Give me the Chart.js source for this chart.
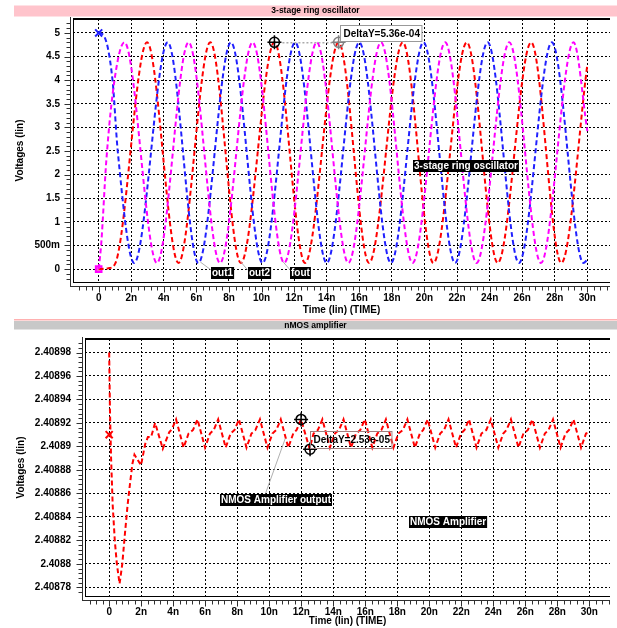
<!DOCTYPE html>
<html lang="en">
<head>
<meta charset="UTF-8">
<title>3-stage ring oscillator / nMOS amplifier</title>
<script src="https://cdn.jsdelivr.net/npm/chart.js"></script>
<style>
  body { margin: 0; background: #fff; }
  #wrap { position: relative; width: 617px; height: 628px; overflow: hidden; }
  canvas { position: absolute; left: 0; }
  #top { top: 0; }
  #bot { top: 319px; }
</style>
</head>
<body>
<div id="wrap">
  <canvas id="top" width="617" height="319"></canvas>
  <canvas id="bot" width="617" height="309"></canvas>
</div>
<script>
// ---- 3-stage ring oscillator: time (ns) / voltage (V) ----
const out1T = [0, 0.3, 0.85, 1.17, 2.18, 4.24, 6.12, 8.12, 10.06, 12.06, 14.0, 16.0, 17.94, 19.94, 21.88, 23.88, 25.8, 27.82, 29.76, 30.0];
const out1V = [5.0, 4.95, 4.0, 2.5, 0.13, 4.8, 0.13, 4.8, 0.13, 4.8, 0.13, 4.8, 0.13, 4.8, 0.13, 4.8, 0.13, 4.8, 0.13, 0.2];

const out2T = [0, 0.6, 1.02, 2.97, 4.9, 6.85, 8.73, 10.79, 12.67, 14.73, 16.6, 18.67, 20.55, 22.6, 24.5, 26.55, 28.4, 30.0];
const out2V = [0, 0.02, 0.12, 4.8, 0.13, 4.8, 0.13, 4.8, 0.13, 4.8, 0.13, 4.8, 0.13, 4.8, 0.13, 4.8, 0.13, 4.33];

const foutT = [0, 0.16, 0.47, 0.97, 1.58, 3.58, 5.52, 7.45, 9.45, 11.39, 13.39, 15.33, 17.33, 19.27, 21.27, 23.2, 25.21, 27.15, 29.15, 30.0];
const foutV = [0, 0.55, 2.3, 4.0, 4.8, 0.13, 4.8, 0.13, 4.8, 0.13, 4.8, 0.13, 4.8, 0.13, 4.8, 0.13, 4.8, 0.13, 4.8, 2.92];

const ringYTicks = [0, 0.5, 1, 1.5, 2, 2.5, 3, 3.5, 4, 4.5, 5];
const ringYLabels = ['0', '500m', '1', '1.5', '2', '2.5', '3', '3.5', '4', '4.5', '5'];

// ---- nMOS amplifier output ----
const ampT = [0.00, 0.05, 0.12, 0.22, 0.35, 0.48, 0.65, 0.82, 0.98, 1.15, 1.30, 1.45, 1.58, 1.99, 2.25, 2.42, 2.62, 2.87,
  3.35, 3.75, 3.93, 4.18,
  4.65, 4.96, 5.24, 5.52,
  5.99, 6.30, 6.53, 6.81,
  7.28, 7.59, 7.83, 8.11,
  8.58, 8.89, 9.14, 9.42,
  9.89, 10.20, 10.44, 10.72,
  11.19, 11.50, 11.71, 11.99,
  12.52, 12.77, 13.04, 13.32,
  13.79, 14.10, 14.36, 14.64,
  15.11, 15.42, 15.69, 15.97,
  16.44, 16.75, 17.01, 17.29,
  17.76, 18.07, 18.35, 18.63,
  19.10, 19.41, 19.62, 19.90,
  20.37, 20.68, 20.92, 21.20,
  21.67, 21.98, 22.20, 22.48,
  22.95, 23.26, 23.56, 23.84,
  24.31, 24.62, 24.82, 25.10,
  25.57, 25.88, 26.16, 26.44,
  26.91, 27.22, 27.45, 27.73,
  28.20, 28.51, 28.73, 29.01,
  29.48, 29.79, 30.00];
const ampV = [2.40898, 2.40893, 2.40889, 2.40885, 2.40882, 2.40880, 2.408783, 2.40880, 2.408825, 2.40885, 2.408868, 2.408885, 2.408893, 2.408884, 2.408902, 2.408908, 2.408908, 2.40892,
  2.408898, 2.408912, 2.408915, 2.408923,
  2.408899, 2.408911, 2.408914, 2.408923,
  2.408899, 2.408911, 2.408914, 2.408923,
  2.408899, 2.408911, 2.408914, 2.408923,
  2.408899, 2.408911, 2.408914, 2.408923,
  2.408899, 2.408911, 2.408914, 2.408923,
  2.408899, 2.408911, 2.408914, 2.408923,
  2.408898, 2.408911, 2.408914, 2.408923,
  2.408899, 2.408911, 2.408914, 2.408923,
  2.408899, 2.408911, 2.408914, 2.408923,
  2.408899, 2.408911, 2.408914, 2.408923,
  2.408899, 2.408911, 2.408914, 2.408923,
  2.408899, 2.408911, 2.408914, 2.408923,
  2.408899, 2.408911, 2.408914, 2.408923,
  2.408899, 2.408911, 2.408914, 2.408923,
  2.408899, 2.408911, 2.408914, 2.408923,
  2.408899, 2.408911, 2.408914, 2.408923,
  2.408899, 2.408911, 2.408914, 2.408923,
  2.408899, 2.408911, 2.408914, 2.408923,
  2.408899, 2.408911, 2.408914, 2.408923,
  2.408899, 2.408911, 2.408912];

const ampYTicks = [2.40878, 2.4088, 2.40882, 2.40884, 2.40886, 2.40888, 2.4089, 2.40892, 2.40894, 2.40896, 2.40898];
const ampYLabels = ['2.40878', '2.4088', '2.40882', '2.40884', '2.40886', '2.40888', '2.4089', '2.40892', '2.40894', '2.40896', '2.40898'];

const timeTicks = [0, 2, 4, 6, 8, 10, 12, 14, 16, 18, 20, 22, 24, 26, 28, 30];
const timeLabels = ['0', '2n', '4n', '6n', '8n', '10n', '12n', '14n', '16n', '18n', '20n', '22n', '24n', '26n', '28n', '30n'];

const FONT = "'Liberation Sans', Arial, sans-serif";
const tickFont = { family: FONT, size: 10, weight: 'bold' };

function pts(T, V) {
  return T.map((t, i) => ({ x: t, y: V[i] }));
}

function wave(T, V, color, smooth) {
  return {
    data: pts(T, V),
    borderColor: color,
    borderWidth: 2,
    borderDash: [5, 3],
    pointRadius: 0,
    fill: false,
    tension: 0,
    cubicInterpolationMode: smooth ? 'monotone' : 'default'
  };
}

function marker(x, y, style, color, fillColor, r) {
  return {
    data: [{ x: x, y: y }],
    showLine: false,
    pointStyle: style,
    pointRadius: r,
    pointBorderWidth: 2,
    borderColor: color,
    backgroundColor: fillColor || color
  };
}

// draws title bar, plot frame, rulers and the cursor / label annotations
function scopePlugin(cfg) {
  return {
    id: 'scope',
    beforeDraw(chart) {
      const c = chart.ctx;
      c.save();
      c.fillStyle = '#fff';
      c.fillRect(0, 0, chart.width, chart.height);
      if (cfg.lineAbove) {
        c.fillStyle = cfg.lineAbove;
        c.fillRect(14, 0, chart.width - 14, 1.5);
      }
      c.fillStyle = cfg.barColor;
      c.fillRect(14, cfg.barY, chart.width - 14, cfg.barH);
      c.fillStyle = '#000';
      c.font = 'bold 8.5px ' + FONT;
      c.textAlign = 'center';
      c.textBaseline = 'middle';
      c.fillText(cfg.title, (14 + chart.width) / 2, cfg.barY + cfg.barH / 2);
      c.restore();
    },
    afterDraw(chart) {
      const c = chart.ctx, a = chart.chartArea;
      const xs = chart.scales.x, ys = chart.scales.y;
      const X = v => xs.getPixelForValue(v);
      const Y = v => ys.getPixelForValue(v);
      c.save();

      // frame
      c.fillStyle = '#000';
      c.fillRect(a.left, a.top - 1, a.right - a.left, 2);
      c.fillRect(a.left, a.top, 1, a.bottom - a.top);
      c.fillRect(a.left, a.bottom, a.right - a.left, 1);

      // rulers
      c.strokeStyle = '#303030';
      c.lineWidth = 1;
      c.beginPath();
      const ry = a.bottom + 4.5;
      c.moveTo(a.left - 2, ry);
      c.lineTo(a.right, ry);
      for (let k = Math.ceil(xs.min / cfg.xMinor); k * cfg.xMinor <= xs.max; k++) {
        const px = Math.round(X(k * cfg.xMinor)) + 0.5;
        c.moveTo(px, ry);
        c.lineTo(px, ry + (((k % 5) + 5) % 5 === 0 ? 6 : 4));
      }
      const rx = a.left - 2.5;
      c.moveTo(rx, a.top - 2);
      c.lineTo(rx, a.bottom + 5);
      for (let k = Math.ceil(ys.min / cfg.yMinor); k * cfg.yMinor <= ys.max; k++) {
        const py = Math.round(Y(k * cfg.yMinor)) + 0.5;
        c.moveTo(rx, py);
        c.lineTo(rx - (((k % 5) + 5) % 5 === 0 ? 6 : 4), py);
      }
      c.stroke();

      // leader lines
      c.strokeStyle = '#b0b0b0';
      c.lineWidth = 1;
      cfg.leaders.forEach(l => {
        c.beginPath();
        c.moveTo(X(l.from[0]), Y(l.from[1]));
        c.lineTo(X(l.to[0]), Y(l.to[1]));
        c.stroke();
      });

      // cursor link
      if (cfg.link) {
        c.strokeStyle = '#808080';
        c.setLineDash([2, 2]);
        c.beginPath();
        c.moveTo(X(cfg.cursors[0].t), Y(cfg.cursors[0].v) + 0.5);
        c.lineTo(X(cfg.cursors[1].t), Y(cfg.cursors[0].v) + 0.5);
        c.stroke();
        c.setLineDash([]);
      }

      // cursors
      cfg.cursors.forEach(k => {
        const x = X(k.t), y = Y(k.v);
        c.strokeStyle = k.color;
        c.lineWidth = 1.5;
        c.beginPath();
        c.arc(x, y, 5, 0, 2 * Math.PI);
        c.stroke();
        c.beginPath();
        c.moveTo(x - 7, y); c.lineTo(x + 7, y);
        c.moveTo(x, y - 7); c.lineTo(x, y + 7);
        c.stroke();
      });

      // delta box
      const d = cfg.delta;
      c.font = 'bold 10px ' + FONT;
      c.textAlign = 'left';
      c.textBaseline = 'middle';
      const dw = c.measureText(d.text).width + 5;
      const dx = Math.round(X(d.t)) + 0.5, dy = Math.round(Y(d.v)) + 0.5;
      if (d.fill) {
        c.fillStyle = d.fill;
        c.fillRect(dx, dy, dw, d.h);
      }
      c.strokeStyle = d.stroke;
      c.lineWidth = 1;
      c.strokeRect(dx, dy, dw, d.h);
      c.fillStyle = '#000';
      c.fillText(d.text, dx + 3, dy + d.h / 2 + 0.5);

      // black labels
      cfg.labels.forEach(l => {
        const w = c.measureText(l.text).width + 2;
        const x = Math.round(X(l.t)), y = Math.round(Y(l.v));
        c.fillStyle = '#000';
        c.fillRect(x, y, w, 12);
        c.fillStyle = '#fff';
        c.fillText(l.text, x + 1, y + 6.5);
      });
      c.restore();
    }
  };
}

function scopeChart(id, datasets, s, cfg) {
  return new Chart(document.getElementById(id), {
    type: 'line',
    data: { datasets: datasets },
    options: {
      responsive: false,
      animation: false,
      devicePixelRatio: 1,
      layout: { padding: { top: s.padTop, left: 0, right: 0, bottom: 0 } },
      plugins: { legend: { display: false }, tooltip: { enabled: false } },
      scales: {
        x: {
          type: 'linear',
          min: s.xMin,
          max: s.xMax,
          afterBuildTicks: sc => { sc.ticks = timeTicks.map(v => ({ value: v })); },
          afterFit: sc => { sc.height = s.xAxisH; },
          ticks: { callback: (v, i) => timeLabels[i], font: tickFont, color: '#000', padding: 10, maxRotation: 0, autoSkip: false },
          grid: { color: '#000', lineWidth: 1, drawTicks: false },
          border: { display: false, dash: [2, 2] },
          title: { display: true, text: 'Time (lin) (TIME)', font: tickFont, color: '#000', padding: { top: 0, bottom: s.xTitlePad } }
        },
        y: {
          type: 'linear',
          min: s.yMin,
          max: s.yMax,
          afterBuildTicks: sc => { sc.ticks = s.yTicks.map(v => ({ value: v })); },
          afterFit: sc => { sc.width = s.yAxisW; },
          ticks: { callback: (v, i) => s.yLabels[i], font: tickFont, color: '#000', padding: s.yLabelPad, autoSkip: false },
          grid: { color: '#000', lineWidth: 1, drawTicks: false },
          border: { display: false, dash: [2, 2] },
          title: { display: true, text: 'Voltages (lin)', font: tickFont, color: '#000', padding: { top: s.yTitlePad, bottom: 0 } }
        }
      }
    },
    plugins: [scopePlugin(cfg)]
  });
}

scopeChart('top', [
  wave(foutT, foutV, '#ff00ff', true),
  wave(out1T, out1V, '#2020ff', true),
  wave(out2T, out2V, '#ff0000', true),
  marker(0, 5, 'crossRot', '#2020ff', null, 5),
  marker(0, 0, 'rect', '#ff00ff', '#ff60c8', 4),
  marker(0, 0, 'star', '#ffd0f0', null, 3)
], {
  padTop: 17, xMin: -1.576, xMax: 31.39, yMin: -0.273, yMax: 5.294,
  xAxisH: 37, yAxisW: 73, yLabelPad: 13, yTitlePad: 14, xTitlePad: 3,
  yTicks: ringYTicks, yLabels: ringYLabels
}, {
  title: '3-stage ring oscillator', barColor: '#ffc4cc', barY: 5.5, barH: 11, lineAbove: null,
  xMinor: 0.4, yMinor: 0.1,
  leaders: [
    { from: [6.91, -0.02], to: [6.24, 0.15] },
    { from: [9.15, -0.02], to: [8.73, 0.15] },
    { from: [11.76, -0.02], to: [11.33, 0.15] }
  ],
  link: true,
  cursors: [{ t: 10.79, v: 4.8, color: '#000' }, { t: 14.73, v: 4.8, color: '#808080' }],
  delta: { text: 'DeltaY=5.36e-04', t: 14.79, v: 5.17, h: 16, fill: '#fff', stroke: '#999' },
  labels: [
    { text: 'out1', t: 6.91, v: 0.04 },
    { text: 'out2', t: 9.15, v: 0.04 },
    { text: 'fout', t: 11.76, v: 0.04 },
    { text: '3-stage ring oscillator', t: 19.27, v: 2.31 }
  ]
});

scopeChart('bot', [
  wave(ampT, ampV, '#ff0000', false),
  marker(0, 2.40891, 'crossRot', '#ff0000', null, 5)
], {
  padTop: 11, xMin: -1.51, xMax: 31.289, yMin: 2.4087726, yMax: 2.4089915,
  xAxisH: 32, yAxisW: 85, yLabelPad: 14, yTitlePad: 15, xTitlePad: 1,
  yTicks: ampYTicks, yLabels: ampYLabels
}, {
  title: 'nMOS amplifier', barColor: '#c8c8c8', barY: 2, barH: 8.5, lineAbove: '#ffb0b0',
  xMinor: 0.4, yMinor: 0.000004,
  leaders: [{ from: [9.77, 2.40886], to: [11.0, 2.4089067] }],
  link: false,
  cursors: [{ t: 11.99, v: 2.408923, color: '#000' }, { t: 12.55, v: 2.4088977, color: '#000' }],
  delta: { text: 'DeltaY=2.53e-05', t: 12.56, v: 2.4089133, h: 17, fill: null, stroke: '#a08080' },
  labels: [
    { text: 'NMOS Amplifier output', t: 6.94, v: 2.4088598 },
    { text: 'NMOS Amplifier', t: 18.73, v: 2.4088409 }
  ]
});
</script>
</body>
</html>
